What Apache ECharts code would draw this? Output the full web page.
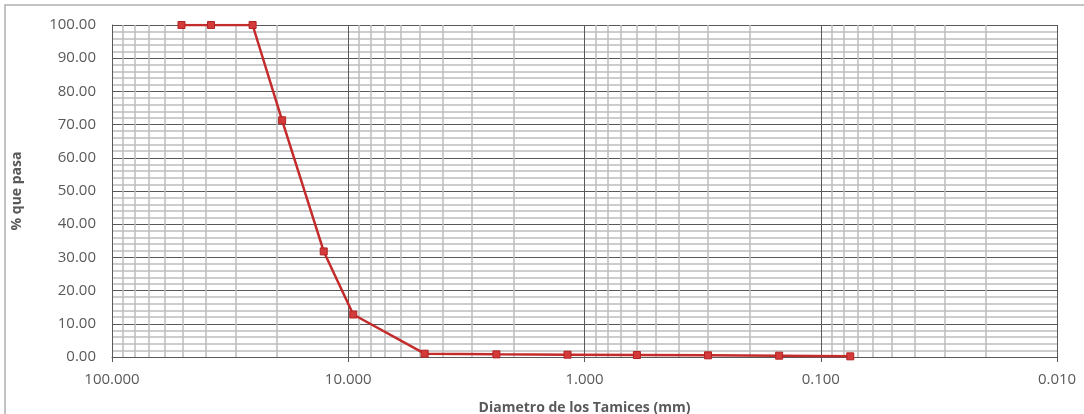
<!DOCTYPE html>
<html>
<head>
<meta charset="utf-8">
<script src="https://cdn.jsdelivr.net/npm/echarts@6/dist/echarts.min.js"></script>
<style>
  html, body { margin: 0; padding: 0; background: #fff; }
  #chart { width: 1084px; height: 414px; }
</style>
</head>
<body>
<div id="chart"></div>
<script>
// tamices (mm) y % que pasa
var diametros = [50.8, 38.1, 25.4, 19.05, 12.7, 9.525, 4.75, 2.36, 1.18, 0.6, 0.3, 0.15, 0.075];
var pasa = [100, 100, 100, 71.3, 31.8, 12.8, 1.0, 0.8, 0.7, 0.6, 0.5, 0.4, 0.2];
var decadas = [10, 1, 0.1, 0.01];
var multiplos = [2, 3, 4, 5, 6, 7, 8, 9];

var chart = echarts.init(document.getElementById('chart'));
var font = '"Open Sans", "Liberation Sans", sans-serif', gris = '#595959';

var minorX = [];
decadas.forEach(function(d) { multiplos.forEach(function(m) { minorX.push({xAxis: +(d * m).toPrecision(3)}) }) });

chart.setOption({
  animation: false,
  graphic: [{type: 'rect', shape: {x: 5, y: 5, width: 1200, height: 600}, style: {fill: 'none', stroke: '#b0b0b0', lineWidth: 1.5}, silent: true}],
  grid: {left: 112, right: 27, top: 25, bottom: 57, outerBoundsMode: 'none', containLabel: false},
  xAxis: {
    type: 'log', logBase: 10, min: 0.01, max: 100, inverse: true,
    name: 'Diametro de los Tamices (mm)', nameLocation: 'middle', nameGap: 44,
    nameTextStyle: {fontFamily: font, fontSize: 14, fontWeight: 'bold', color: gris},
    axisLine: {lineStyle: {color: '#595959', width: 1}},
    axisTick: {show: true, length: 5, lineStyle: {color: '#595959'}},
    axisLabel: {fontFamily: font, fontSize: 15, color: gris, margin: 15, formatter: function(v) { return v.toFixed(3) }},
    splitLine: {show: true, lineStyle: {color: '#595959', width: 1}}
  },
  yAxis: {
    type: 'value', min: 0, max: 100, interval: 10,
    name: '% que pasa', nameLocation: 'middle', nameGap: 88,
    nameTextStyle: {fontFamily: font, fontSize: 14, fontWeight: 'bold', color: gris},
    axisLine: {show: true, lineStyle: {color: '#595959', width: 1}},
    axisTick: {show: false},
    axisLabel: {fontFamily: font, fontSize: 15, color: gris, margin: 16, formatter: function(v) { return v.toFixed(2) }},
    splitLine: {show: true, lineStyle: {color: '#595959', width: 1}},
    minorTick: {show: false, splitNumber: 5},
    minorSplitLine: {show: true, lineStyle: {color: '#bdbdbd', width: 1.5}}
  },
  series: [
    {
      type: 'line', z: 1, silent: true, symbol: 'none', lineStyle: {opacity: 0},
      data: diametros.map(function(d, i) { return [d, pasa[i]] }),
      markLine: {silent: true, symbol: ['none', 'none'], label: {show: false}, animation: false,
        lineStyle: {color: '#bdbdbd', width: 1.5, type: 'solid'}, data: minorX}
    },
    {
      type: 'line', z: 5,
      data: diametros.map(function(d, i) { return [d, pasa[i]] }),
      symbol: 'rect', symbolSize: 7,
      lineStyle: {color: '#c42b2b', width: 2.5},
      itemStyle: {color: '#d33a3a', borderColor: '#b52424', borderWidth: 1}
    }
  ]
});
</script>
</body>
</html>
